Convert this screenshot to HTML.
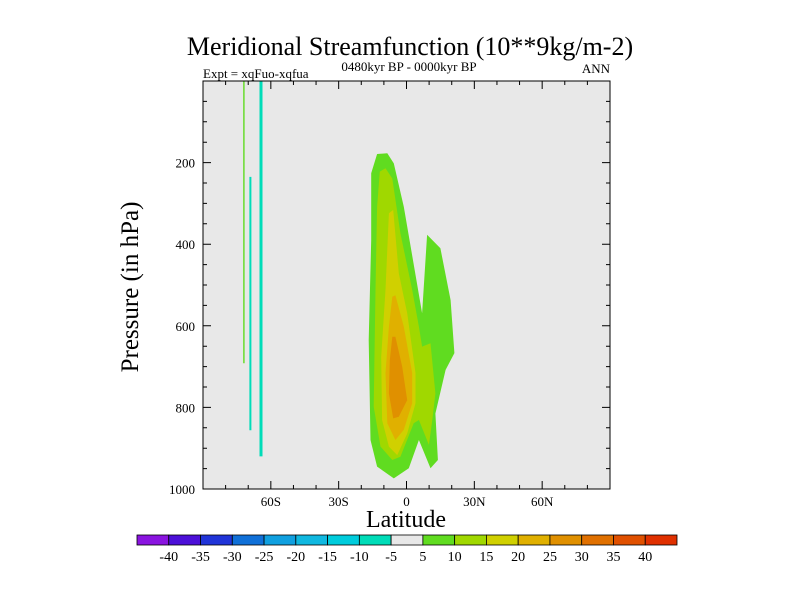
<!DOCTYPE html>
<html><head><meta charset="utf-8"><style>
body{margin:0;background:#fff;}
svg{display:block;font-family:"Liberation Serif",serif;}
</style></head><body>
<svg id="chart" width="800" height="600" viewBox="0 0 800 600">
<text x="410" y="55" font-size="26" text-anchor="middle">Meridional Streamfunction (10**9kg/m-2)</text>
<text x="203" y="78" font-size="13">Expt = xqFuo-xqfua</text>
<text x="409" y="71" font-size="13" text-anchor="middle">0480kyr BP - 0000kyr BP</text>
<text x="610" y="73" font-size="13" text-anchor="end">ANN</text>
<rect x="203" y="81" width="407" height="408" fill="#e8e8e8"/>
<g id="contours"></g>
<g id="axes"></g>
<text x="406" y="527" font-size="24" text-anchor="middle">Latitude</text>
<text transform="translate(138,287) rotate(-90)" font-size="25" text-anchor="middle">Pressure (in hPa)</text>
<g id="colorbar"></g>
</svg>
<script>
const levelColors = ["#8a14e0","#4c10d8","#2034d8","#1070d8","#10a0e0","#10b8e0","#00ccdc","#00dcb8","#e8e8e8","#60dc20","#a0d800","#d0d000","#e0b000","#e09000","#e07000","#e05000","#e03000"];
const levelLabels = ["-40","-35","-30","-25","-20","-15","-10","-5","5","10","15","20","25","30","35","40"];
const xTickLats = [-60,-30,0,30,60];
const xTickLabels = ["60S","30S","0","30N","60N"];
const yTicks = [200,400,600,800,1000];
// contour regions: [levelIndex, [[lat,p],...]]
const region5 = [[-15.6,226],[-13.0,179],[-8.5,177],[-5.6,202],[-1.2,308],[6.9,569],[9.1,377],[15.0,410],[19.5,537],[21.2,667],[17.3,708],[12.8,815],[13.9,929],[10.6,949],[5.5,880],[1.0,949],[-5.6,974],[-13.0,945],[-15.9,880],[-16.7,635],[-15.6,390]];
const region10 = [[-11.8,222],[-9.3,214],[-6.3,239],[-2.7,373],[2.5,512],[5.5,602],[6.9,651],[10.6,643],[12.8,766],[11.4,831],[9.9,892],[5.5,831],[3.2,839],[-2.7,921],[-6.3,929],[-11.5,896],[-14.5,798],[-13.7,512],[-13.0,308]];
const region15 = [[-7.8,324],[-5.9,316],[-3.4,471],[0.3,569],[4.0,716],[4.0,790],[0.3,864],[-4.1,917],[-7.8,896],[-10.8,831],[-11.2,676],[-9.3,512]];
const region20 = [[-6.3,529],[-4.9,525],[-1.2,602],[2.5,716],[2.5,790],[-1.2,855],[-4.9,880],[-8.5,839],[-9.3,716],[-7.8,602]];
const region25 = [[-6.3,627],[-4.9,627],[-1.9,700],[0.3,782],[-3.4,823],[-5.9,827],[-7.8,766],[-7.4,684]];
const stripeGreen = [[-72.2,0],[-71.6,0],[-71.6,692],[-72.2,692]];
const stripeCyanA = [[-69.5,235],[-68.6,235],[-68.6,856],[-69.5,856]];
const stripeCyanB = [[-65.0,0],[-63.7,0],[-63.7,920],[-65.0,920]];
const regions = [[9,region5,"contour-5-10"],[10,region10,"contour-10-15"],[11,region15,"contour-15-20"],[12,region20,"contour-20-25"],[13,region25,"contour-25-30"],[9,stripeGreen,"contour-south-green"],[7,stripeCyanA,"contour-south-cyan-a"],[7,stripeCyanB,"contour-south-cyan-b"]];

const NS="http://www.w3.org/2000/svg";
const X0=203,X1=610,Y0=81,Y1=489;
const xs = lat => X0 + (lat+90)/180*(X1-X0);
const ys = p => Y0 + p/1000*(Y1-Y0);
function mk(tag, attrs, parent){const e=document.createElementNS(NS,tag);for(const k in attrs)e.setAttribute(k,attrs[k]);parent.appendChild(e);return e;}

const cg=document.getElementById('contours');
regions.forEach(r=>{
  const pts=r[1].map(q=>xs(q[0]).toFixed(1)+","+ys(q[1]).toFixed(1)).join(" ");
  const el=mk('polygon',{points:pts,fill:levelColors[r[0]]},cg);
  
  
});

const ag=document.getElementById('axes');
const frame=mk('rect',{x:X0,y:Y0,width:X1-X0,height:Y1-Y0,fill:"none",stroke:"#000","stroke-width":1},ag);


let d="";
for(let lat=-90;lat<=90;lat+=10){const x=xs(lat);const L=(lat%30===0)?8:4;d+=`M${x},${Y1}v${-L}M${x},${Y0}v${L}`;}
for(let p=0;p<=1000;p+=50){const y=ys(p);const L=(p%200===0)?8:4;d+=`M${X0},${y}h${L}M${X1},${y}h${-L}`;}
const tk=mk('path',{d:d,stroke:"#000","stroke-width":1,fill:"none"},ag);


xTickLats.forEach((lat,i)=>{
  const t=mk('text',{x:xs(lat),y:506,"font-size":13,"text-anchor":"middle"},ag);t.textContent=xTickLabels[i];
  
  
});
yTicks.forEach(p=>{
  const t=mk('text',{x:195,y:ys(p)+5,"font-size":13,"text-anchor":"end"},ag);t.textContent=p;
  
  
});

const bg=document.getElementById('colorbar');
const CB0=137,CB1=677,n=levelColors.length,w=(CB1-CB0)/n;
levelColors.forEach((c,i)=>{
  const r=mk('rect',{x:CB0+i*w,y:535,width:w,height:10,fill:c,stroke:"#000","stroke-width":0.8},bg);
  
  
});
levelLabels.forEach((l,i)=>{
  const t=mk('text',{x:CB0+(i+1)*w,y:561,"font-size":14,"text-anchor":"middle"},bg);t.textContent=l;
  
  
});
</script>
</body></html>
